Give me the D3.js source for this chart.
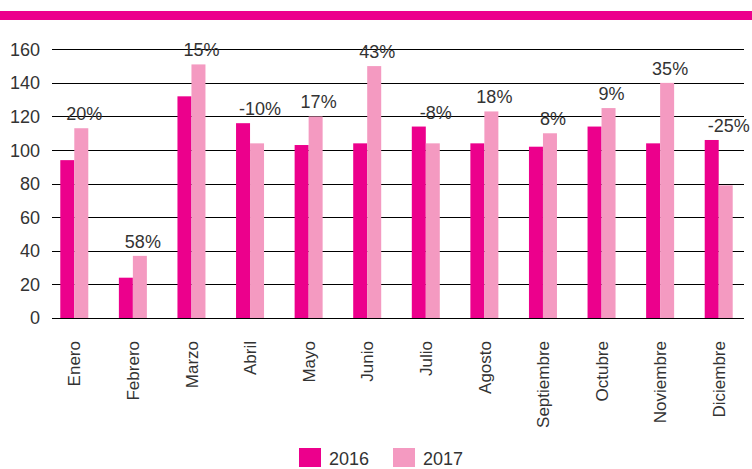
<!DOCTYPE html>
<html>
<head>
<meta charset="utf-8">
<script src="https://cdn.jsdelivr.net/npm/d3@7"></script>
<style>
  body { margin: 0; background: #fff; }
  text { font-family: "Liberation Sans", Arial, sans-serif; fill: #333; }
</style>
</head>
<body>
<div id="chart-area"></div>
<script>
var months = ["Enero", "Febrero", "Marzo", "Abril", "Mayo", "Junio", "Julio",
              "Agosto", "Septiembre", "Octubre", "Noviembre", "Diciembre"];
var series = ["2016", "2017"];
var values2016 = [94, 24, 132, 116, 103, 104, 114, 104, 102, 114, 104, 106];
var values2017 = [113, 37, 151, 104, 120, 150, 104, 123, 110, 125, 140, 79];
var changeLabels = ["20%", "58%", "15%", "-10%", "17%", "43%", "-8%", "18%", "8%", "9%", "35%", "-25%"];
var yTicks = [0, 20, 40, 60, 80, 100, 120, 140, 160];

var colors = { "2016": "#ec008c", "2017": "#f49ac1" };

var width = 752, height = 469;

var svg = d3.select("#chart-area")
    .append("svg")
    .attr("width", width)
    .attr("height", height);

// top band
svg.append("rect")
    .attr("x", 0).attr("y", 11)
    .attr("width", width).attr("height", 9)
    .attr("fill", colors["2016"]);

var y = d3.scaleLinear().domain([0, 160]).range([318, 49.3]);

var x0 = d3.scaleBand().domain(months).range([45, 748]);
var barW = 14;
var x1 = d3.scaleBand().domain(series).range([0, barW * 2]);
var groupOff = (x0.bandwidth() - barW * 2) / 2;

// gridlines
svg.append("g")
    .selectAll("line")
    .data(yTicks)
    .enter()
    .append("line")
    .attr("x1", 52).attr("x2", 744)
    .attr("y1", function(d){ return Math.round(y(d)) + 0.5; })
    .attr("y2", function(d){ return Math.round(y(d)) + 0.5; })
    .attr("stroke", "#000")
    .attr("stroke-width", 1.2);

// y labels
svg.append("g")
    .selectAll("text")
    .data(yTicks)
    .enter()
    .append("text")
    .attr("x", 40)
    .attr("y", function(d){ return y(d); })
    .attr("dy", "0.36em")
    .attr("text-anchor", "end")
    .style("font-size", "18px")
    .text(function(d){ return d; });

var data = months.map(function(m, i){
    return { month: m, "2016": values2016[i], "2017": values2017[i], label: changeLabels[i] };
});

var groups = svg.append("g")
    .selectAll("g")
    .data(data)
    .enter()
    .append("g")
    .attr("transform", function(d){ return "translate(" + (x0(d.month) + groupOff) + ",0)"; });

groups.selectAll("rect")
    .data(function(d){ return series.map(function(s){ return { key: s, value: d[s] }; }); })
    .enter()
    .append("rect")
    .attr("x", function(d){ return x1(d.key); })
    .attr("width", x1.bandwidth())
    .attr("y", function(d){ return y(d.value); })
    .attr("height", function(d){ return y(0) - y(d.value); })
    .attr("fill", function(d){ return colors[d.key]; });

// percent change labels
groups.append("text")
    .attr("x", barW + 10)
    .attr("y", function(d){ return y(Math.max(d["2016"], d["2017"])) - 8; })
    .attr("text-anchor", "middle")
    .style("font-size", "18px")
    .text(function(d){ return d.label; });

// month labels
svg.append("g")
    .selectAll("text")
    .data(months)
    .enter()
    .append("text")
    .attr("transform", function(d){
        return "translate(" + (x0(d) + x0.bandwidth() / 2) + ",341) rotate(-90)";
    })
    .attr("dy", "0.36em")
    .attr("text-anchor", "end")
    .style("font-size", "17px")
    .text(function(d){ return d; });

// legend
var legend = svg.append("g")
    .selectAll("g")
    .data(series)
    .enter()
    .append("g")
    .attr("transform", function(d, i){ return "translate(" + (299 + i * 94) + ",448)"; });

legend.append("rect")
    .attr("width", 22).attr("height", 19)
    .attr("fill", function(d){ return colors[d]; });

legend.append("text")
    .attr("x", 30)
    .attr("y", 17)
    .style("font-size", "18px")
    .text(function(d){ return d; });
</script>
</body>
</html>
